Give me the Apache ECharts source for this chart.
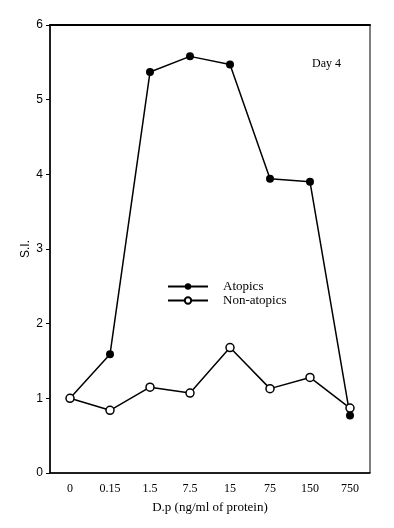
<!DOCTYPE html>
<html>
<head>
<meta charset="utf-8">
<script src="https://cdn.jsdelivr.net/npm/echarts@6/dist/echarts.min.js"></script>
<style>html,body{margin:0;padding:0;background:#fff}#c{width:394px;height:528px}</style>
</head>
<body>
<div id="c"></div>
<script>
const categories = ['0', '0.15', '1.5', '7.5', '15', '75', '150', '750'];
const atopics = [1.0, 1.59, 5.37, 5.58, 5.47, 3.94, 3.90, 0.77];
const nonAtopics = [1.0, 0.84, 1.15, 1.07, 1.68, 1.13, 1.28, 0.87];
const yTicks = [0, 1, 2, 3, 4, 5, 6];

const chart = echarts.init(document.getElementById('c'));
const serif = 'Liberation Serif';
chart.setOption({
  animation: false,
  backgroundColor: '#fff',
  grid: { left: 50, right: 24, top: 25, bottom: 55, show: true, borderColor: '#000', borderWidth: 1 },
  title: {
    text: 'Day 4', right: 48, top: 53,
    textStyle: { fontFamily: serif, fontSize: 12, fontWeight: 'normal', color: '#000' }
  },
  legend: {
    orient: 'vertical', left: 162, top: 275, itemWidth: 40, itemHeight: 8, itemGap: 1,
    textStyle: { fontFamily: serif, fontSize: 13, color: '#000', padding: [0, 0, 0, 10] },
    data: ['Atopics', 'Non-atopics']
  },
  xAxis: [{
    type: 'category', data: categories, boundaryGap: true,
    name: 'D.p (ng/ml of protein)', nameLocation: 'middle', nameGap: 28,
    nameTextStyle: { fontFamily: serif, fontSize: 13, color: '#000' },
    axisLine: { lineStyle: { color: '#000', width: 1.5 } },
    axisTick: { alignWithLabel: true, length: 5, lineStyle: { color: '#000' } },
    axisLabel: { fontFamily: serif, fontSize: 12, color: '#000', margin: 10 },
    splitLine: { show: false }
  }, {
    type: 'category', data: categories, position: 'top',
    axisLine: { lineStyle: { color: '#000', width: 2 } },
    axisTick: { show: false }, axisLabel: { show: false }, splitLine: { show: false }
  }],
  yAxis: {
    type: 'value', min: 0, max: 6, interval: 1,
    name: 'S.I.', nameLocation: 'middle', nameGap: 18, nameRotate: 90, nameMoveOverlap: false,
    nameTextStyle: { fontFamily: 'Liberation Sans', fontSize: 12, color: '#000' },
    axisLine: { show: true, lineStyle: { color: '#000', width: 1.5 } },
    axisTick: { show: true, length: 4, lineStyle: { color: '#000' } },
    axisLabel: { fontFamily: 'Liberation Sans', fontSize: 12, color: '#000', margin: 7,
      formatter: v => yTicks.includes(v) ? String(v) : '' },
    splitLine: { show: false }
  },
  series: [{
    name: 'Atopics', type: 'line', data: atopics,
    symbol: 'circle', symbolSize: 8,
    itemStyle: { color: '#000' },
    lineStyle: { color: '#000', width: 1.5 }
  }, {
    name: 'Non-atopics', type: 'line', data: nonAtopics,
    symbol: 'circle', symbolSize: 8, z: 3,
    itemStyle: { color: '#fff', borderColor: '#000', borderWidth: 1.5 },
    lineStyle: { color: '#000', width: 1.5 }
  }]
});
</script>
</body>
</html>
